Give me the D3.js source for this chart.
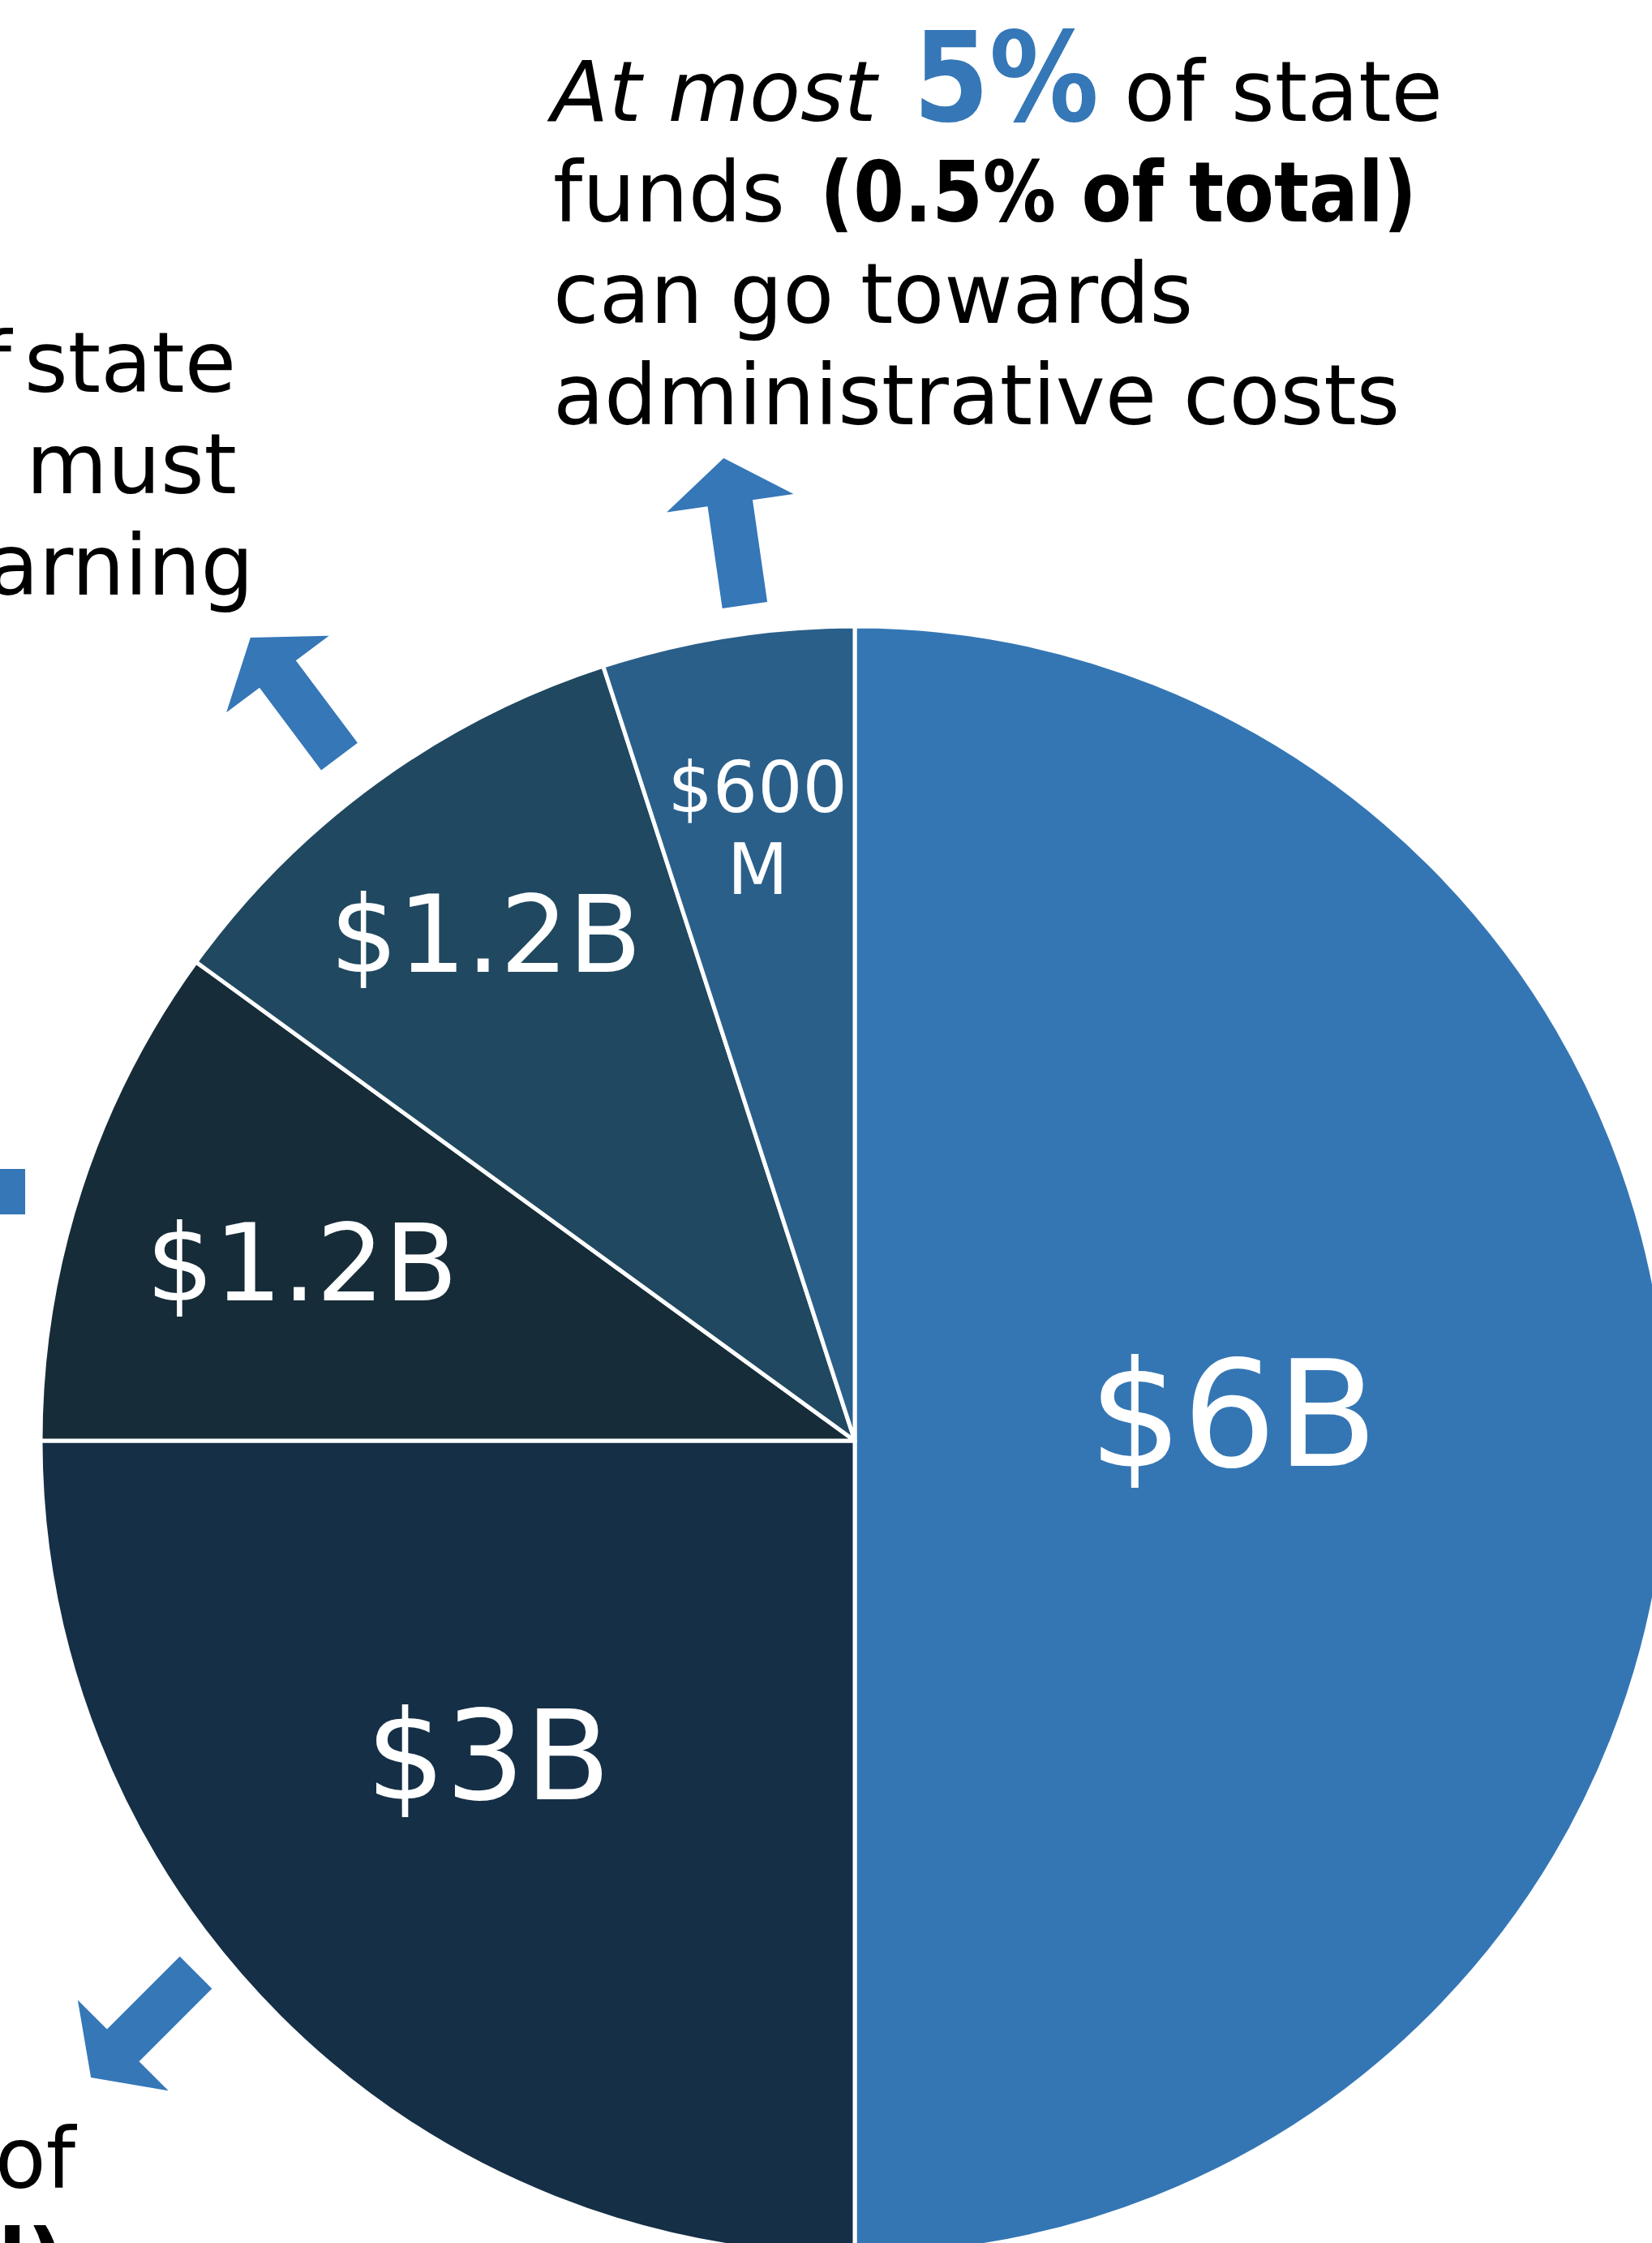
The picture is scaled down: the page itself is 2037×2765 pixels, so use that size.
<!DOCTYPE html>
<html lang="en">
<head>
    <meta charset="UTF-8" />
    <title>State funds pie</title>
    <script src="https://d3js.org/d3.v7.min.js"></script>
    <style>
        body {
            margin: 0;
            background: #fff;
        }
        svg {
            display: block;
            font-family: "DejaVu Sans", sans-serif;
        }
    </style>
</head>
<body>
<svg id="chart"></svg>

<script>
    // slices, clockwise from 12 o'clock (values in $M)
    const labels = [["$6B"], ["$3B"], ["$1.2B"], ["$1.2B"], ["$600", "M"]];
    const values = [6000, 3000, 1200, 1200, 600];
    const colors = ["#3476b4", "#152f46", "#172c39", "#204860", "#2a5f8a"];

    // label placement tweaks per slice
    const labelSize = [182, 154, 132, 132, 87];
    const labelRadius = [0.466, 0.592, 0.714, 0.771, 0.763];
    const labelShift = [-4.3, 4.5, 0, 0, 0];

    // arrows: where the tail sits (deg, px from centre) and which way it points
    const arrows = [
        { at: 352.5, dist: 1039, dir: 351.8 },
        { at: 323.0, dist: 1056, dir: 323.2 },
        { at: 286.7, dist: 1068, dir: 270 },
        { at: 231.1, dist: 1044, dir: 225 }
    ];

    const width = 2037;
    const height = 2765;
    const cx = 1054, cy = 1776, radius = 1004;
    const blue = "#3577b7";

    const svg = d3.select("#chart")
        .attr("width", width)
        .attr("height", height);

    svg.append("rect")
        .attr("width", width)
        .attr("height", height)
        .attr("fill", "#fff");

    const pie = d3.pie().sort(null).value(d => d)(values);
    const arc = d3.arc().innerRadius(0).outerRadius(radius);

    const g = svg.append("g").attr("transform", `translate(${cx},${cy})`);

    g.selectAll("path")
        .data(pie)
        .join("path")
        .attr("d", arc)
        .attr("fill", (d, i) => colors[i])
        .attr("stroke", "#fff")
        .attr("stroke-width", 5)
        .attr("stroke-linejoin", "round");

    const rad = deg => deg * Math.PI / 180;

    const label = g.selectAll("text.slice")
        .data(pie)
        .join("text")
        .attr("class", "slice")
        .attr("fill", "#fff")
        .attr("text-anchor", "middle")
        .attr("font-size", (d, i) => labelSize[i])
        .attr("transform", (d, i) => {
            const a = (d.startAngle + d.endAngle) / 2 + rad(labelShift[i]);
            const r = radius * labelRadius[i];
            return `translate(${r * Math.sin(a)},${-r * Math.cos(a)})`;
        });

    label.each(function (d, i) {
        const lines = labels[i];
        const lh = 1.16;
        d3.select(this).selectAll("tspan")
            .data(lines)
            .join("tspan")
            .attr("x", 0)
            .attr("dy", (t, j) => j === 0 ? `${0.365 - (lines.length - 1) * lh / 2}em` : `${lh}em`)
            .text(t => t);
    });

    // block arrows, drawn pointing up from the tail then rotated
    const shaftW = 56, shaftL = 127, headW = 158, headL = 56;
    const arrowShape = [
        [-shaftW / 2, 0], [shaftW / 2, 0], [shaftW / 2, -shaftL], [headW / 2, -shaftL],
        [0, -shaftL - headL], [-headW / 2, -shaftL], [-shaftW / 2, -shaftL]
    ];

    svg.append("g")
        .selectAll("polygon")
        .data(arrows)
        .join("polygon")
        .attr("points", arrowShape.map(p => p.join(",")).join(" "))
        .attr("fill", blue)
        .attr("transform", d => {
            const x = cx + d.dist * Math.sin(rad(d.at));
            const y = cy - d.dist * Math.cos(rad(d.at));
            return `translate(${x},${y}) rotate(${d.dir})`;
        });

    // annotation text
    const note = svg.append("g")
        .attr("font-size", 103)
        .attr("fill", "#000");

    // top right block
    const l1 = note.append("text").attr("y", 149);
    l1.append("tspan").attr("x", 680).attr("font-style", "italic").text("At most");
    l1.append("tspan").attr("x", 1126)
        .attr("font-weight", "bold")
        .attr("font-size", 154)
        .attr("fill", blue)
        .attr("textLength", 229)
        .attr("lengthAdjust", "spacingAndGlyphs")
        .text("5%");
    l1.append("tspan").attr("x", 1386).text("of state");

    const l2 = note.append("text").attr("y", 273);
    l2.append("tspan").attr("x", 682).text("funds");
    l2.append("tspan").attr("x", 1011)
        .attr("font-weight", "bold")
        .attr("textLength", 736)
        .attr("lengthAdjust", "spacingAndGlyphs")
        .text("(0.5% of total)");

    note.append("text").attr("x", 682).attr("y", 398).text("can go towards");
    note.append("text").attr("x", 682).attr("y", 523).text("administrative costs");

    // left block, runs off the left edge
    const left = note.append("g").attr("text-anchor", "end");
    const s1 = left.append("text").attr("y", 483);
    s1.append("tspan").attr("x", 14).text("of");
    s1.append("tspan").attr("x", 291).text("state");
    left.append("text").attr("x", 292).attr("y", 608).text("must");
    left.append("text").attr("x", 313).attr("y", 733).text("learning");

    // bottom left block
    left.append("text").attr("x", 93).attr("y", 2697).text("of");
    left.append("text").attr("x", 80).attr("y", 2822)
        .attr("font-weight", "bold")
        .text("total)");
</script>
</body>
</html>
